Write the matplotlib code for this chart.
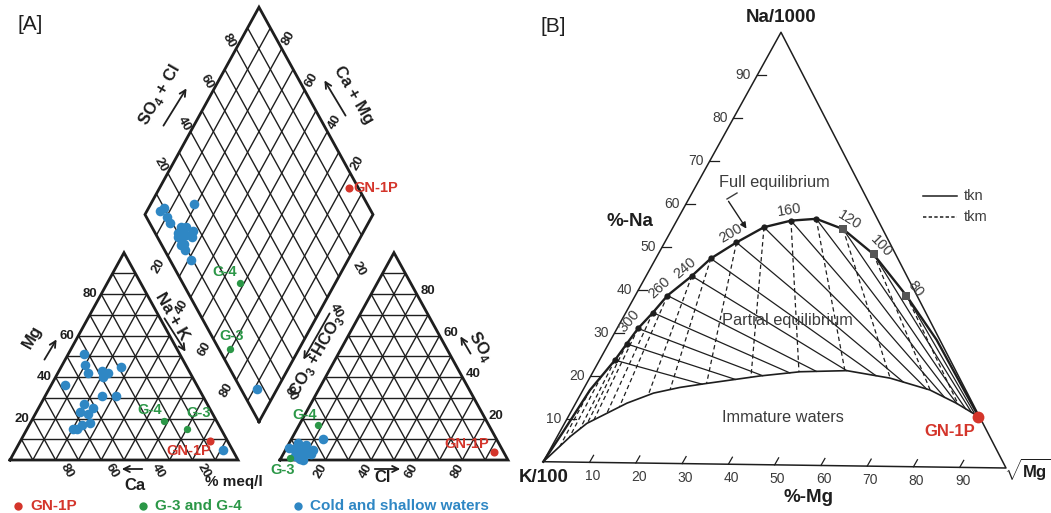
import numpy as np
import matplotlib.pyplot as plt

plt.rcParams['font.family'] = ['Liberation Sans', 'DejaVu Sans']
plt.rcParams['mathtext.fontset'] = 'custom'
plt.rcParams['mathtext.rm'] = 'Liberation Sans'
plt.rcParams['mathtext.bf'] = 'Liberation Sans:bold'

RED = '#d4352b'
GREEN = '#2b9747'
BLUE = '#2f87c4'
INK = '#1e1e1e'
GREY = '#3c3c3c'

# ---------------- [A] Piper data, % meq/l ----------------
# cold and shallow waters
cold_mg = [51, 46, 42, 43, 42, 40, 45, 36, 31, 31, 27, 25, 23, 22, 18, 17, 15, 15, 5]
cold_nak = [7, 10, 13, 19, 22, 21, 26, 6, 25, 31, 19, 24, 19, 23, 26, 23, 22, 20, 91]
cold_so4 = [3, 4, 1, 10, 8, 7, 3, 2, 5, 3, 5, 6, 2, 2, 0.5, 3, 0, 5, 6]
cold_cl = [7, 5, 8, 14, 4, 8, 12, 5.5, 12, 6, 8, 4, 8, 6.5, 8.5, 10, 10, 4, 1]
# G-3 and G-4
g_names = ['G-3', 'G-4']
g_mg = [15, 19]
g_nak = [70, 58]
g_so4 = [1, 17]
g_cl = [4, 8]
# GN-1P
gn_mg, gn_nak, gn_so4, gn_cl = [9], [83], [4], [92]

piper_ticks = [20, 40, 60, 80]
hco3_ticks = [20, 40, 80]   # 60 is hidden under the axis name

# ---------------- [B] Giggenbach Na-K-Mg data ----------------
eq_temp = [340, 320, 300, 280, 260, 240, 220, 200, 180, 160, 140, 120, 100, 80]
eq_na = [23.7, 27.5, 31.1, 34.8, 38.8, 43.4, 47.5, 51.3, 54.9, 56.5, 57.0, 54.7, 49.0, 39.5]
eq_mg = [3.3, 3.9, 4.5, 5.8, 6.9, 9.8, 11.8, 15.4, 19.5, 24.5, 29.7, 36.7, 46.2, 58.2]
eq_labelled = [300, 260, 240, 200, 160, 120, 100, 80]
# full equilibrium curve ends (below the 340 point and beyond 80)
eq_low_na, eq_low_mg = [0, 7.0, 16.7], [0, 0.7, 1.5]
eq_high_na, eq_high_mg = [29.4, 11.8], [69.9, 88.0]
# extra tkm lines starting on the lower part of the curve
tkm_extra_na, tkm_extra_mg = [20.0, 16.7], [2.3, 1.5]
# immature waters boundary
imm_na = [0, 5.9, 9.0, 11.4, 13.8, 16.2, 17.6, 18.6, 20.5, 21.6, 22.0, 20.4, 17.8, 14.8, 11.8]
imm_mg = [0, 2.8, 4.8, 7.9, 11.0, 15.5, 20.5, 25.7, 36.3, 44.4, 54.3, 64.5, 74.4, 81.7, 88.0]
gn_gig_na, gn_gig_mg = [11.8], [87.9]
gig_ticks = [10, 20, 30, 40, 50, 60, 70, 80, 90]

fig = plt.figure(figsize=(10.51, 5.13), dpi=100)
ax = fig.add_axes([0, 0, 1, 1])
ax.set_xlim(0, 1051)
ax.set_ylim(513, 0)
ax.axis('off')

# ---------------- Piper geometry ----------------
X0, Y0 = 10, 460
SX, SY = 228, 239.4
GAP = 0.184
H = np.sqrt(3) / 2


def to_px(u, v):
    return X0 + SX * np.asarray(u, float), Y0 - SY * np.asarray(v, float)


def cation_xy(mg, nak):
    mg, nak = np.asarray(mg, float) / 100, np.asarray(nak, float) / 100
    return to_px(nak + mg / 2, mg * H)


def anion_xy(so4, cl):
    so4, cl = np.asarray(so4, float) / 100, np.asarray(cl, float) / 100
    return to_px(1 + GAP + cl + so4 / 2, so4 * H)


def diamond_xy(cm, sc):
    cm, sc = np.asarray(cm, float) / 100, np.asarray(sc, float) / 100
    return to_px(1 + GAP / 2 + (sc - cm) / 2, GAP * H + (sc + cm) * H)


def seg(p, q, **kw):
    ax.plot([p[0], q[0]], [p[1], q[1]], **kw)


grid_kw = dict(color=INK, lw=1.0, solid_capstyle='butt', zorder=1)
edge_kw = dict(color=INK, lw=2.0, solid_joinstyle='miter', zorder=2)

for f in range(10, 100, 10):
    seg(cation_xy(f, 0), cation_xy(f, 100 - f), **grid_kw)
    seg(cation_xy(0, f), cation_xy(100 - f, f), **grid_kw)
    seg(cation_xy(0, f), cation_xy(f, 0), **grid_kw)
    seg(anion_xy(f, 0), anion_xy(f, 100 - f), **grid_kw)
    seg(anion_xy(0, f), anion_xy(100 - f, f), **grid_kw)
    seg(anion_xy(0, f), anion_xy(f, 0), **grid_kw)
    seg(diamond_xy(0, f), diamond_xy(100, f), **grid_kw)
    seg(diamond_xy(f, 0), diamond_xy(f, 100), **grid_kw)

ax.plot(*cation_xy([0, 0, 100, 0], [0, 100, 0, 0]), **edge_kw)
ax.plot(*anion_xy([0, 0, 100, 0], [0, 100, 0, 0]), **edge_kw)
ax.plot(*diamond_xy([0, 100, 100, 0, 0], [0, 0, 100, 100, 0]), **edge_kw)


def piper_points(mg, nak, so4, cl, color, size):
    mg, nak, so4, cl = (np.asarray(a, float) for a in (mg, nak, so4, cl))
    for x, y in (cation_xy(mg, nak), anion_xy(so4, cl), diamond_xy(100 - nak, so4 + cl)):
        ax.scatter(x, y, s=size, color=color, linewidths=0, zorder=5)


piper_points(cold_mg, cold_nak, cold_so4, cold_cl, BLUE, 48)
piper_points(g_mg, g_nak, g_so4, g_cl, GREEN, 28)
piper_points(gn_mg, gn_nak, gn_so4, gn_cl, RED, 34)

# point labels
lab_kw = dict(textcoords='offset pixels', ha='center', va='center', fontsize=10.5,
              fontweight='bold', zorder=6)
g_off = {'G-3': [(12, 16), (-8, -12), (1, 13)], 'G-4': [(-14, 11), (-13, 10), (-15, 11)]}
for i, name in enumerate(g_names):
    pts = [cation_xy(g_mg[i], g_nak[i]), anion_xy(g_so4[i], g_cl[i]),
           diamond_xy(100 - g_nak[i], g_so4[i] + g_cl[i])]
    for p, off in zip(pts, g_off[name]):
        ax.annotate(name, (float(p[0]), float(p[1])), xytext=off, color=GREEN, **lab_kw)
p = cation_xy(gn_mg[0], gn_nak[0])
ax.annotate('GN-1P', (float(p[0]), float(p[1])), xytext=(-21, -10), color=RED, **lab_kw)
p = anion_xy(gn_so4[0], gn_cl[0])
ax.annotate('GN-1P', (float(p[0]), float(p[1])), xytext=(-28, 8), color=RED, **lab_kw)
p = diamond_xy(100 - gn_nak[0], gn_so4[0] + gn_cl[0])
ax.annotate('GN-1P', (float(p[0]), float(p[1])), xytext=(4, 0), color=RED,
            **{**lab_kw, 'ha': 'left'})

# tick labels
tk = dict(fontsize=9.5, fontweight='bold', ha='center', va='center', color=INK)
for v in piper_ticks:
    x, y = cation_xy(v, 0)
    ax.text(x - 4, y, str(v), **{**tk, 'ha': 'right'})
    x, y = cation_xy(0, 100 - v)
    ax.text(x + 11, y + 11, str(v), rotation=-60, **tk)
    x, y = anion_xy(0, v)
    ax.text(x - 5, y + 11, str(v), rotation=60, **tk)
    x, y = anion_xy(v, 100 - v)
    ax.text(x + 11, y - 3, str(v), **tk)
    x, y = diamond_xy(100, v)
    ax.text(x - 7, y - 8, str(v), rotation=-60, **tk)
    x, y = diamond_xy(v, 100)
    ax.text(x + 7, y - 10, str(v), rotation=60, **tk)
    x, y = diamond_xy(100 - v, 0)
    ax.text(x - 9, y + 10, str(v), rotation=60, **tk)
for v in hco3_ticks:
    x, y = diamond_xy(0, 100 - v)
    ax.text(x + 9, y + 13, str(v), rotation=-60, **tk)

# axis names with arrows
nm = dict(fontsize=12, fontweight='bold', ha='center', va='center', color=INK)
arw = dict(arrowstyle='->', lw=1.3, color=INK, mutation_scale=11)
ax.text(160, 95, r'SO$_\mathbf{4}$ + Cl', rotation=60, **nm)
ax.annotate('', xy=(188, 86), xytext=(162, 128), arrowprops=arw)
ax.text(354, 95, 'Ca + Mg', rotation=-60, **nm)
ax.annotate('', xy=(323, 78), xytext=(347, 118), arrowprops=arw)
ax.text(172, 316, 'Na + K', rotation=-60, **nm)
ax.annotate('', xy=(187, 354), xytext=(163, 316), arrowprops=arw)
ax.text(317, 356, r'CO$_\mathbf{3}$ +HCO$_\mathbf{3}$', rotation=60, **nm)
ax.annotate('', xy=(302, 362), xytext=(331, 311), arrowprops=arw)
ax.text(32, 337, 'Mg', rotation=60, **nm)
ax.annotate('', xy=(58, 337), xytext=(43, 362), arrowprops=arw)
ax.text(480, 346, r'SO$_\mathbf{4}$', rotation=-60, **nm)
ax.annotate('', xy=(459, 334), xytext=(472, 356), arrowprops=arw)
ax.text(135, 485, 'Ca', **nm)
ax.annotate('', xy=(119, 469), xytext=(145, 469), arrowprops=arw)
ax.text(383, 478, 'Cl', **nm)
ax.annotate('', xy=(403, 469), xytext=(372, 469), arrowprops=arw)
ax.text(234, 482, '% meq/l', fontsize=11, fontweight='bold', ha='center', va='center', color=INK)
ax.text(30, 24, '[A]', fontsize=15, ha='center', va='center', color=INK)

# legend
for xm, col, txt in ((18, RED, 'GN-1P'), (143, GREEN, 'G-3 and G-4'),
                     (298, BLUE, 'Cold and shallow waters')):
    ax.plot([xm], [506], 'o', color=col, ms=6, mew=0)
    ax.text(xm + 12, 506, txt, color=col, fontsize=11, fontweight='bold',
            ha='left', va='center')

# ---------------- [B] Giggenbach triangle ----------------
K_V = (543.3, 461.7)
MG_V = (1006.0, 468.0)
NA_V = (781.0, 32.3)


def gig_px(na, mg):
    na = np.asarray(na, float) / 100
    mg = np.asarray(mg, float) / 100
    k = 1 - na - mg
    return (k * K_V[0] + mg * MG_V[0] + na * NA_V[0],
            k * K_V[1] + mg * MG_V[1] + na * NA_V[1])


ax.plot(*gig_px([0, 0, 100, 0], [0, 100, 0, 0]), color=INK, lw=1.1, zorder=2)

for v in gig_ticks:
    x, y = gig_px(v, 0)
    ax.plot([x, x + 9], [y, y], color=INK, lw=0.9)
    ax.text(x - 6, y, str(v), fontsize=10, color=GREY, ha='right', va='center')
    x, y = gig_px(0, v)
    ax.plot([x, x + 4], [y, y - 7], color=INK, lw=0.9)
    ax.text(x + 3, y + 14, str(v), fontsize=10, color=GREY, ha='center', va='center')

ix, iy = gig_px(imm_na, imm_mg)
ex, ey = gig_px(eq_na, eq_mg)


def to_immature(x0, y0, dx, dy):
    t = np.linspace(0, 1.5, 4001)
    xs, ys = x0 + t * dx, y0 + t * dy
    hit = np.argmax(ys >= np.interp(xs, ix, iy))
    return xs[hit], ys[hit]


for x0, y0 in zip(ex, ey):
    x1, y1 = to_immature(x0, y0, MG_V[0] - x0, MG_V[1] - y0)
    ax.plot([x0, x1], [y0, y1], color=INK, lw=0.9, zorder=3)

tx, ty = gig_px(list(eq_na) + tkm_extra_na, list(eq_mg) + tkm_extra_mg)
for x0, y0 in zip(tx, ty):
    x1, y1 = to_immature(x0, y0, x0 - NA_V[0], y0 - NA_V[1])
    ax.plot([x0, x1], [y0, y1], color=INK, lw=0.9, ls=(0, (3.5, 2.5)), zorder=3)

ax.plot(ix, iy, color=INK, lw=1.2, zorder=3)
cx, cy = gig_px(eq_low_na + eq_na + eq_high_na, eq_low_mg + eq_mg + eq_high_mg)
ax.plot(cx, cy, color=INK, lw=1.7, zorder=4)

for i, t in enumerate(eq_temp):
    big = t <= 120
    ax.plot(ex[i], ey[i], 'o' if not big else 's', color=INK if not big else '#555555',
            ms=4.5 if not big else 6, mew=0, zorder=5)
    if t in eq_labelled:
        a, b = max(i - 1, 0), min(i + 1, len(ex) - 1)
        dx, dy = ex[b] - ex[a], ey[b] - ey[a]
        ln = np.hypot(dx, dy)
        nx, ny = dy / ln, -dx / ln
        ang = np.degrees(np.arctan2(-dy, dx))
        ax.text(ex[i] + 11 * nx, ey[i] + 11 * ny, str(t), rotation=ang, fontsize=10.5,
                color=GREY, ha='center', va='center', rotation_mode='anchor')

gx, gy = gig_px(gn_gig_na, gn_gig_mg)
ax.plot(gx, gy, 'o', color=RED, ms=8.5, mew=0, zorder=6)
ax.annotate('GN-1P', (float(gx[0]), float(gy[0])), xytext=(-28, -15),
            textcoords='offset pixels', color=RED, fontsize=12, fontweight='bold',
            ha='center', va='center')

txt = dict(fontsize=11.8, color=GREY, ha='center', va='center')
ax.text(774, 182, 'Full equilibrium', **txt)
ax.text(787, 321, 'Partial equilibrium', **txt)
ax.text(783, 418, 'Immature waters', **txt)
ax.plot([737, 727], [193, 199], color=GREY, lw=1.0)
ax.annotate('', xy=(748, 231), xytext=(727, 199),
            arrowprops=dict(arrowstyle='-|>', lw=1.0, color=INK, mutation_scale=9))

ax.plot([923, 957], [196, 196], color=INK, lw=1.1)
ax.plot([923, 957], [217, 217], color=INK, lw=1.1, ls=(0, (2.2, 1.5)))
ax.text(964, 196, 'tkn', fontsize=10.5, color=GREY, ha='left', va='center')
ax.text(964, 217, 'tkm', fontsize=10.5, color=GREY, ha='left', va='center')

bold = dict(fontsize=13.5, fontweight='bold', color=INK, ha='center', va='center')
ax.text(781, 18, 'Na/1000', **bold)
ax.text(544, 478, 'K/100', **bold)
ax.text(630, 222, '%-Na', **bold)
ax.text(808, 497, '%-Mg', **bold)
ax.text(1004, 470, r'$\sqrt{\mathbf{Mg}}$', fontsize=12, color=INK, ha='left', va='center')
ax.text(553, 27, '[B]', fontsize=15, ha='center', va='center', color=INK)

fig.savefig('out.png', dpi=100)
